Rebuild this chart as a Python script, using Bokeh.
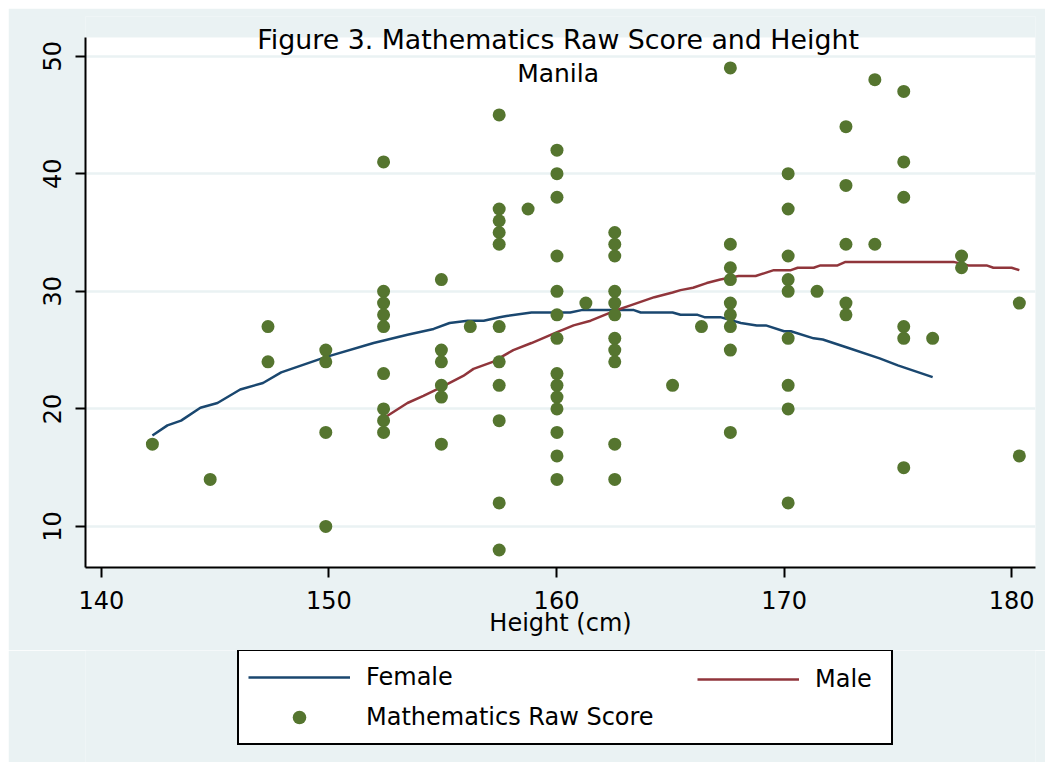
from bokeh.plotting import figure
from bokeh.layouts import column
from bokeh.models import Range1d, FixedTicker, Label, Legend, LegendItem, BoxAnnotation
from bokeh.embed import file_html
from bokeh.resources import INLINE

FONT = "DejaVu Sans"
BG = "#EAF2F3"

# ---- data ----
height_cm = [
    142.24,
    144.78,
    147.32, 147.32,
    149.86, 149.86, 149.86, 149.86,
    152.40, 152.40, 152.40, 152.40, 152.40, 152.40, 152.40, 152.40, 152.40,
    154.94, 154.94, 154.94, 154.94, 154.94, 154.94,
    156.21,
    157.48, 157.48, 157.48, 157.48, 157.48, 157.48, 157.48, 157.48, 157.48, 157.48, 157.48,
    158.75,
    160.02, 160.02, 160.02, 160.02, 160.02, 160.02, 160.02, 160.02, 160.02, 160.02, 160.02, 160.02, 160.02, 160.02,
    161.29,
    162.56, 162.56, 162.56, 162.56, 162.56, 162.56, 162.56, 162.56, 162.56, 162.56, 162.56,
    165.10,
    166.37,
    167.64, 167.64, 167.64, 167.64, 167.64, 167.64, 167.64, 167.64, 167.64,
    170.18, 170.18, 170.18, 170.18, 170.18, 170.18, 170.18, 170.18, 170.18,
    171.45,
    172.72, 172.72, 172.72, 172.72, 172.72,
    173.99, 173.99,
    175.26, 175.26, 175.26, 175.26, 175.26, 175.26,
    176.53,
    177.80, 177.80,
    180.34, 180.34,
]
math_score = [
    17,
    14,
    27, 24,
    25, 24, 18, 10,
    41, 30, 29, 28, 27, 23, 20, 19, 18,
    31, 25, 24, 22, 21, 17,
    27,
    45, 37, 36, 35, 34, 27, 24, 22, 19, 12, 8,
    37,
    42, 40, 38, 33, 30, 28, 26, 23, 22, 21, 20, 18, 16, 14,
    29,
    35, 34, 33, 30, 29, 28, 26, 25, 24, 17, 14,
    22,
    27,
    49, 34, 32, 31, 29, 28, 27, 25, 18,
    40, 37, 33, 31, 30, 26, 22, 20, 12,
    30,
    44, 39, 34, 29, 28,
    48, 34,
    47, 41, 38, 27, 26, 15,
    26,
    33, 32,
    29, 16,
]

female_x = [142.24, 142.9, 143.5, 144.35, 145.1, 146.1, 147.1, 147.9, 149.85, 151.96,
            153.45, 154.6, 155.3, 156.1, 156.8, 157.5, 157.8, 158.9, 160.6, 161.1,
            163.4, 163.7, 165.1, 165.45, 166.2, 166.5, 167.2, 168.1, 168.8, 169.2,
            170.0, 170.3, 171.3, 171.7, 172.8, 174.2, 175.0, 176.53]
female_y = [17.74, 18.6, 19.0, 20.1, 20.5, 21.65, 22.2, 23.1, 24.4, 25.6,
            26.3, 26.8, 27.3, 27.5, 27.5, 27.8, 27.9, 28.2, 28.2, 28.4,
            28.4, 28.2, 28.2, 28.0, 28.0, 27.8, 27.8, 27.3, 27.1, 27.1,
            26.6, 26.6, 26.0, 25.9, 25.2, 24.3, 23.7, 22.7]

male_x = [152.4, 153.45, 154.15, 154.9, 155.9, 156.35, 157.2, 158.1, 158.9, 160.0,
          160.75, 161.5, 162.5, 163.25, 164.3, 165.1, 165.45, 166.0, 166.6, 167.2,
          168.0, 168.75, 169.55, 170.3, 170.6, 171.3, 171.6, 172.35, 172.7, 177.45,
          178.1, 178.9, 179.2, 180.0, 180.34]
male_y = [19.2, 20.5, 21.1, 21.8, 22.8, 23.4, 24.0, 25.0, 25.6, 26.5,
          27.1, 27.5, 28.3, 28.8, 29.5, 29.9, 30.1, 30.3, 30.7, 31.0,
          31.3, 31.3, 31.8, 31.8, 32.0, 32.0, 32.2, 32.2, 32.5, 32.5,
          32.2, 32.2, 32.0, 32.0, 31.8]

x_ticks = [140, 150, 160, 170, 180]
y_ticks = [10, 20, 30, 40, 50]
title_text = "Figure 3. Mathematics Raw Score and Height"
subtitle_text = "Manila"

FEMALE_C = "#1A476F"
MALE_C = "#90353B"
POINT_C = "#55752F"

Y_LO, Y_HI = 6.51, 51.58      # plot-region extent
Y_TOP = 53.37                 # frame extends above plot region for the title

# ---- main figure ----
p = figure(width=1037, height=642, output_backend="svg", toolbar_location=None,
           x_range=Range1d(139.3, 181.05), y_range=Range1d(Y_LO, Y_TOP),
           min_border_left=77, min_border_right=10, min_border_top=8, min_border_bottom=83,
           background_fill_color=BG, border_fill_color=BG, outline_line_color=None)
p.margin = (8, 8, 0, 8)

# white plot region (below the title band)
p.add_layout(BoxAnnotation(top=Y_HI, fill_color="white", fill_alpha=1.0,
                           line_color=None, level="image"))

p.xgrid.visible = False
p.ygrid.grid_line_color = BG
p.ygrid.grid_line_width = 2.5
p.ygrid.ticker = FixedTicker(ticks=y_ticks)

for ax in (p.xaxis[0], p.yaxis[0]):
    ax.axis_line_color = "black"
    ax.axis_line_width = 2
    ax.major_tick_line_color = "black"
    ax.major_tick_line_width = 2
    ax.major_tick_out = 10
    ax.major_tick_in = 0
    ax.minor_tick_line_color = None
    ax.major_label_text_font = FONT
    ax.major_label_text_font_size = "24px"
    ax.major_label_text_color = "black"

p.xaxis.ticker = FixedTicker(ticks=x_ticks)
p.yaxis.ticker = FixedTicker(ticks=y_ticks)
p.yaxis.bounds = (Y_LO, Y_HI)
p.xaxis.major_label_standoff = 13
p.xaxis.axis_label = "Height (cm)"
p.xaxis.axis_label_text_font = FONT
p.xaxis.axis_label_text_font_size = "24px"
p.xaxis.axis_label_text_font_style = "normal"
p.xaxis.axis_label_text_color = "black"
p.xaxis.axis_label_standoff = -3
p.yaxis.major_label_orientation = "vertical"
p.yaxis.major_label_standoff = 14

r_f = p.line(female_x, female_y, line_color=FEMALE_C, line_width=2.5)
r_m = p.line(male_x, male_y, line_color=MALE_C, line_width=2.5)
r_s = p.scatter(height_cm, math_score, size=13, fill_color=POINT_C, line_color=None)

p.add_layout(Label(x=160.07, y=51.42, text=title_text, text_align="center",
                   text_baseline="alphabetic", text_font=FONT, text_font_size="26.8px",
                   text_color="black"))
p.add_layout(Label(x=160.07, y=48.52, text=subtitle_text, text_align="center",
                   text_baseline="alphabetic", text_font=FONT, text_font_size="25px",
                   text_color="black"))

# ---- legend strip ----
q = figure(width=1037, height=112, output_backend="svg", toolbar_location=None,
           x_range=Range1d(0, 1), y_range=Range1d(0, 1),
           x_axis_type=None, y_axis_type=None,
           min_border_left=0, min_border_right=0, min_border_top=0, min_border_bottom=0,
           background_fill_color=BG, border_fill_color=BG, outline_line_color=None)
q.margin = (0, 8, 8, 8)
q.grid.visible = False

# legend proxies (kept outside the strip's visible range)
lf = q.line([-5, -4], [-5, -4], line_color=FEMALE_C, line_width=2.5)
lm = q.line([-5, -4], [-5, -4], line_color=MALE_C, line_width=2.5)
ls = q.scatter([-5], [-5], size=13, fill_color=POINT_C, line_color=None)

common = dict(label_text_font=FONT, label_text_font_size="24px", label_text_color="black",
              glyph_width=102, glyph_height=34, label_height=28, label_standoff=16,
              spacing=6, margin=0)

leg1 = Legend(items=[LegendItem(label="Female", renderers=[lf]),
                     LegendItem(label="Mathematics Raw Score", renderers=[ls])],
              location=(152, 17), orientation="vertical", label_width=516, padding=9,
              border_line_color="black", border_line_width=2, border_line_alpha=1.0,
              background_fill_color="white", background_fill_alpha=1.0, **common)
leg2 = Legend(items=[LegendItem(label="Male", renderers=[lm])],
              location=(612, 66), orientation="vertical", padding=0,
              border_line_color=None, background_fill_alpha=0.0, **common)
q.add_layout(leg1)
q.add_layout(leg2)

layout = column(p, q, spacing=0)
open("out.html", "w").write(file_html(layout, INLINE))
